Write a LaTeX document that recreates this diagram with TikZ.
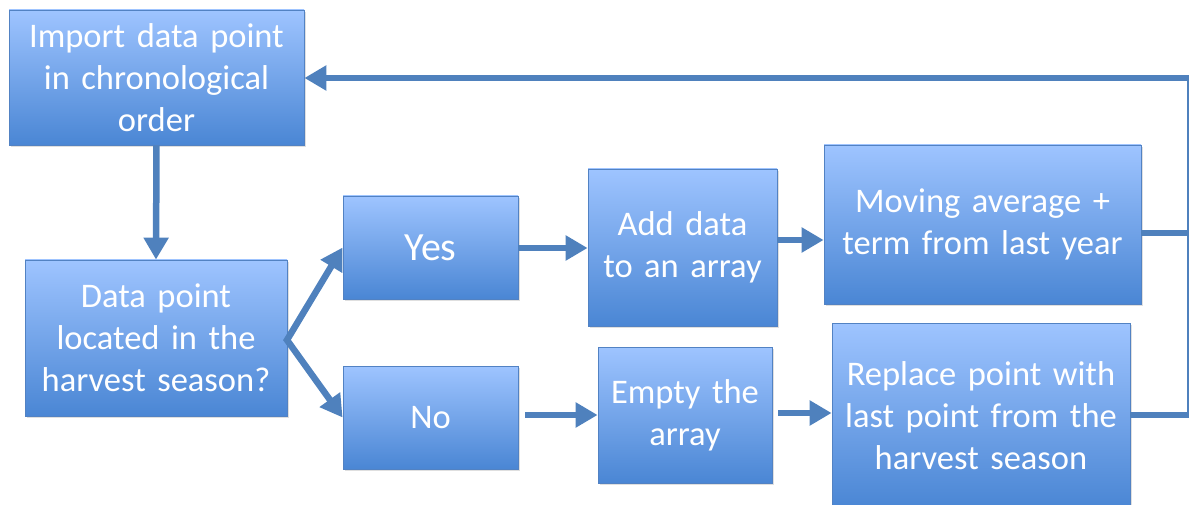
\documentclass[tikz,border=0pt]{standalone}
\usepackage{fontspec}
\setmainfont{Carlito}
\usetikzlibrary{arrows.meta,shadows}
\definecolor{flowline}{RGB}{79,129,189}
\definecolor{boxtop}{RGB}{158,196,255}
\definecolor{boxbottom}{RGB}{74,134,212}
\definecolor{boxedge}{RGB}{82,130,195}
\tikzset{
  flowbox/.style={rectangle, draw=boxedge, line width=0.8pt,
    top color=boxtop, bottom color=boxbottom, text=white,
    align=center, inner sep=2pt,
    font=\fontsize{34.5}{42}\selectfont,
    drop shadow={shadow xshift=2pt, shadow yshift=-2pt, opacity=0.25}},
  flow/.style={flowline, line width=6.5pt},
  flowarrow/.style={flow, -{Triangle[width=24pt,length=22pt]}},
}
% place a box by its pixel corners (x1,y1)-(x2,y2)
\newcommand{\flowboxat}[6]{%
  \node[flowbox, minimum width=#3-#1, minimum height=#4-#2, text width=#3-#1-6pt]
    (#5) at ({(#1+#3)/2},{(#2+#4)/2}) {#6};}
\begin{document}
\begin{tikzpicture}[x=1pt,y=-1pt]
\clip (0,0) rectangle (1189,505);
\useasboundingbox (0,0) rectangle (1189,505);

\flowboxat{9}{10}{304}{145}{import}{Import data point\\in chronological\\order}
\flowboxat{25}{260}{287}{416}{check}{Data point\\located in the\\harvest season?}
\node[flowbox, minimum width=175, minimum height=103, font=\fontsize{40}{42}\selectfont]
  (yes) at (430.5,247.5) {Yes};
\flowboxat{343}{366}{518}{469}{no}{No}
\flowboxat{588}{169}{777}{326}{add}{Add data\\to an array}
\flowboxat{598}{347}{772}{483}{empty}{Empty the\\array}
\flowboxat{824}{145}{1141}{304}{moving}{Moving average +\\term from last year}
\flowboxat{832}{323}{1130}{508}{replace}{Replace point with\\last point from the\\harvest season}

% branch point on the right side of the decision box
\coordinate (fork) at (287,340);
\coordinate (back) at (1188,78);

\draw[flowarrow] (import.south) -- (check.north);
\draw[flowarrow, shorten <=-2pt] (fork) -- (yes.west);
\draw[flowarrow, shorten <=-2pt] (fork) -- (no.west);
\draw[flowarrow] (518,248) -- (add.west |- 0,248);
\draw[flowarrow] (777,240) -- (moving.west |- 0,240);
\draw[flowarrow] (525,415) -- (empty.west |- 0,415);
\draw[flowarrow] (778,413) -- (replace.west |- 0,413);

% return path to the start
\draw[flow] (moving.east |- 0,233) -- (1189,233);
\draw[flow] (replace.east |- 0,415) -- (1189,415);
\draw[flowline, line width=2.5pt] (1188,78) -- (1188,415);
\draw[flowarrow] (1189,78) -- (import.east |- back);
\end{tikzpicture}
\end{document}
